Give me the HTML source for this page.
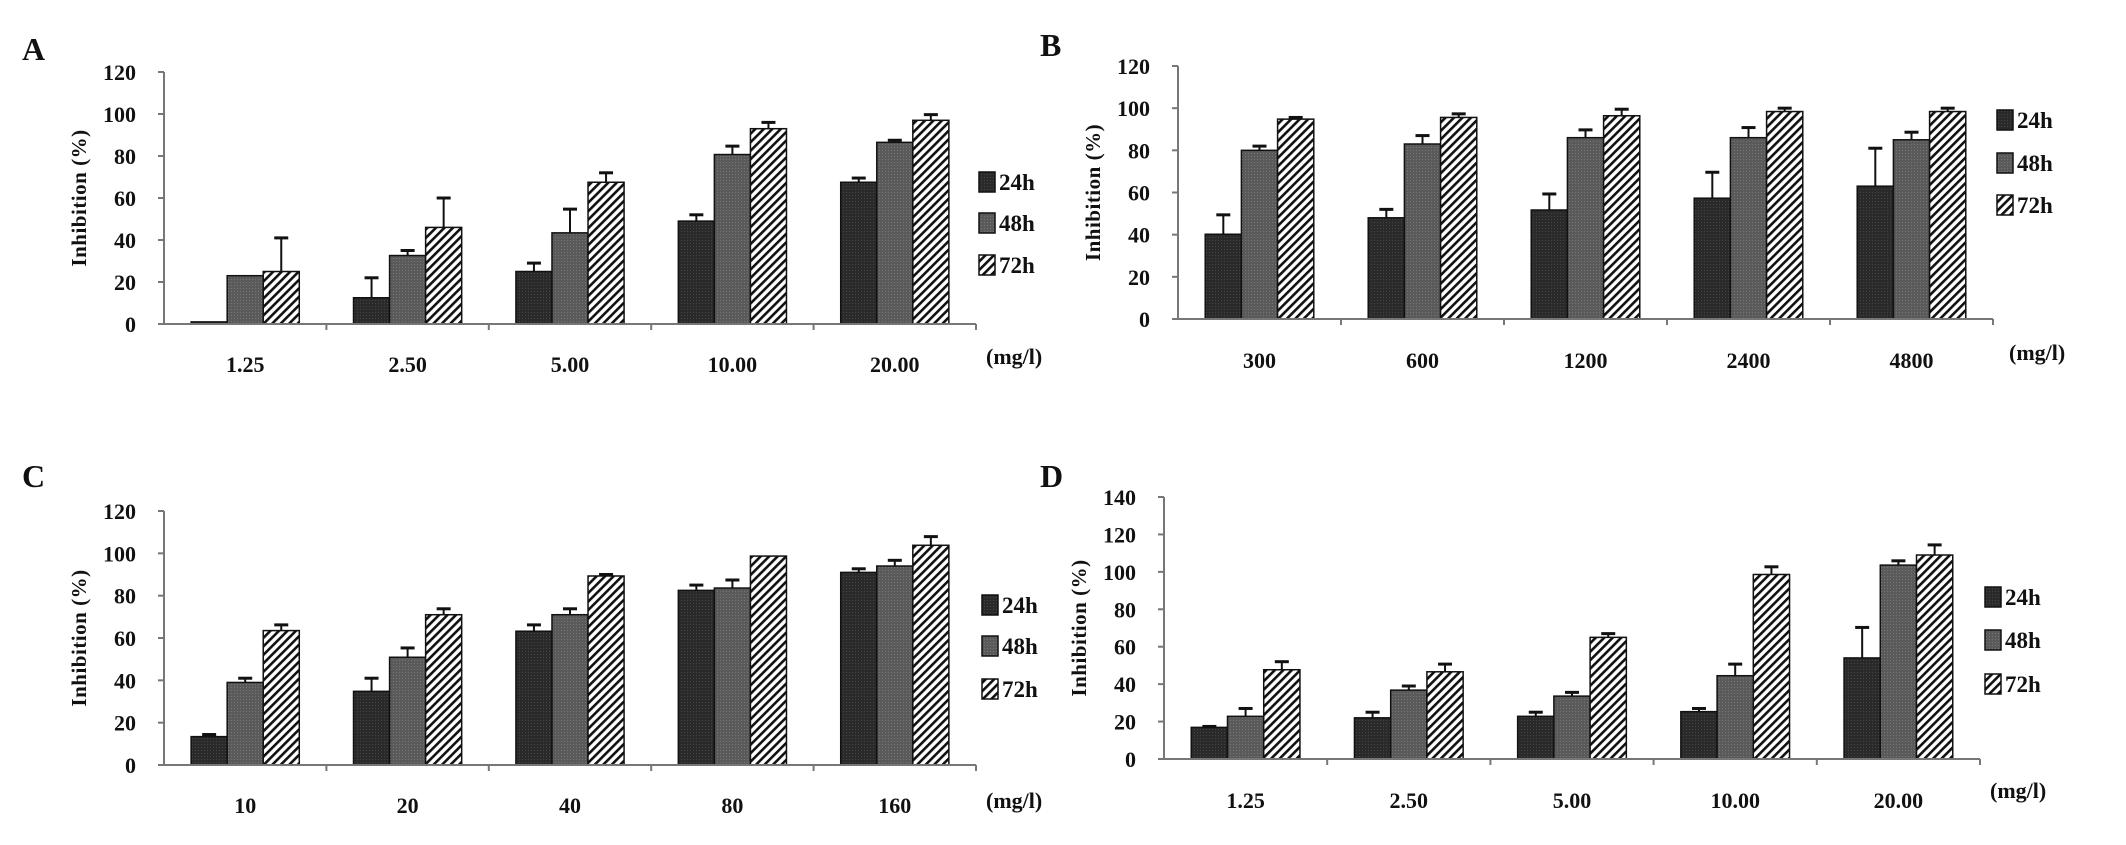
<!DOCTYPE html>
<html><head><meta charset="utf-8"><style>
body{margin:0;background:#fff;width:2126px;height:845px;overflow:hidden}
svg{display:block}
text{font-family:"Liberation Serif",serif;font-weight:bold;fill:#111}
</style></head><body>
<svg id="fig" width="2126" height="845" viewBox="0 0 2126 845">
<defs>
<pattern id="pDark" width="3" height="3" patternUnits="userSpaceOnUse"><rect width="3" height="3" fill="#2a2a2a"/><rect width="1" height="1" fill="#444"/></pattern>
<pattern id="pMid" width="3" height="3" patternUnits="userSpaceOnUse"><rect width="3" height="3" fill="#5a5a5a"/><rect width="1" height="1" fill="#777"/></pattern>
<pattern id="pHatch" width="6" height="6" patternUnits="userSpaceOnUse" patternTransform="rotate(45)"><rect width="6" height="6" fill="#fff"/><rect width="2.6" height="6" fill="#111"/></pattern>
</defs>
</svg>
<script>
const seriesNames = ["24h","48h","72h"];
const fills = ["url(#pDark)","url(#pMid)","url(#pHatch)"];

const catsA = ["1.25","2.50","5.00","10.00","20.00"];
const a24 = [1,12.5,25,49,67.5];
const a48 = [23,32.6,43.4,80.7,86.5];
const a72 = [25,46,67.5,93,97];
const a24e = [0,9.5,4,3,2];
const a48e = [0,2.4,11.3,4,1];
const a72e = [16,14,4.5,3,2.7];
const ticksA = [0,20,40,60,80,100,120];

const catsB = ["300","600","1200","2400","4800"];
const b24 = [40.2,48,51.7,57.3,63];
const b48 = [80,83,86,86,85];
const b72 = [94.8,95.6,96.4,98.4,98.4];
const b24e = [9.2,4,7.6,12.3,18];
const b48e = [2,4,3.7,4.8,3.6];
const b72e = [0.8,1.7,3.1,1.6,1.6];
const ticksB = [0,20,40,60,80,100,120];

const catsC = ["10","20","40","80","160"];
const c24 = [13.4,34.8,63.2,82.5,91];
const c48 = [39,50.9,71,83.6,94];
const c72 = [63.5,71,89.3,98.7,103.8];
const c24e = [1,6.2,3,2.5,1.7];
const c48e = [2,4.4,2.8,3.8,2.7];
const c72e = [2.7,2.8,0.7,0,4.1];
const ticksC = [0,20,40,60,80,100,120];

const catsD = ["1.25","2.50","5.00","10.00","20.00"];
const d24 = [16.9,22,22.8,25.3,54];
const d48 = [22.8,36.8,33.6,44.5,103.6];
const d72 = [47.7,46.6,65,98.6,109];
const d24e = [0.5,3,2.2,1.7,16.3];
const d48e = [4.2,2.2,2,6.2,2.3];
const d72e = [4.3,4.1,2,4.1,5.4];
const ticksD = [0,20,40,60,80,100,120,140];

const NS = "http://www.w3.org/2000/svg";
const svg = document.getElementById("fig");
function mk(tag, attrs, parent, txt){
  const e = document.createElementNS(NS, tag);
  for (const k in attrs) e.setAttribute(k, attrs[k]);
  if (txt !== undefined) e.textContent = txt;
  (parent || svg).appendChild(e);
  return e;
}

function panel(cfg){
  const g = mk("g", {});
  
  
  const yMax = cfg.ticks[cfg.ticks.length-1];
  const yS = v => cfg.y0 - (v / yMax) * (cfg.y0 - cfg.yTop);
  const band = (cfg.xEnd - cfg.x0) / cfg.cats.length;
  const bw = band * 0.222;
  const xS = (i, s) => cfg.x0 + i*band + (band - 3*bw)/2 + s*bw;

  const lbl = mk("text", {x: cfg.lx, y: cfg.ly, "font-size": 32}, g, cfg.letter);
  
  

  const ya = mk("line", {x1: cfg.x0, y1: cfg.yTop, x2: cfg.x0, y2: cfg.y0, stroke: "#777", "stroke-width": 2}, g);
  
  
  cfg.ticks.forEach(t => {
    const y = yS(t);
    mk("line", {x1: cfg.x0-6, y1: y, x2: cfg.x0, y2: y, stroke: "#777", "stroke-width": 2}, g);
    const tl = mk("text", {x: cfg.x0-28, y: y+8, "font-size": 22, "text-anchor": "end"}, g, String(t));
    
    
  });
  const yt = mk("text", {x: 0, y: 0, "font-size": 21, "text-anchor": "middle", "letter-spacing": "0.5", transform: `translate(${cfg.tx},${(cfg.yTop+cfg.y0)/2}) rotate(-90)`}, g, "Inhibition (%)");
  
  

  cfg.vals.forEach((arr, s) => {
    arr.forEach((v, i) => {
      const x = xS(i, s), y = yS(v);
      const e = cfg.errs[s][i];
      if (e > 0) {
        const ey = yS(v + e), cx = x + bw/2;
        mk("line", {x1: cx, y1: y, x2: cx, y2: ey, stroke: "#111", "stroke-width": 2}, g);
        const cap = mk("line", {x1: cx-7, y1: ey, x2: cx+7, y2: ey, stroke: "#111", "stroke-width": 3}, g);
        
        
      }
      const r = mk("rect", {x: x, y: y, width: bw, height: Math.max(cfg.y0 - y, 1), fill: fills[s], stroke: "#111", "stroke-width": 1.5}, g);
      
      
    });
  });

  const xa = mk("line", {x1: cfg.x0, y1: cfg.y0, x2: cfg.xEnd, y2: cfg.y0, stroke: "#777", "stroke-width": 2}, g);
  
  
  cfg.cats.forEach((c, i) => {
    const bx = cfg.x0 + (i+1)*band;
    mk("line", {x1: bx, y1: cfg.y0, x2: bx, y2: cfg.y0+6, stroke: "#777", "stroke-width": 2}, g);
    const cl = mk("text", {x: cfg.x0 + (i+0.5)*band, y: cfg.xly, "font-size": 22, "text-anchor": "middle"}, g, c);
    
    
  });
  const un = mk("text", {x: cfg.ux, y: cfg.uy, "font-size": 22}, g, "(mg/l)");
  
  

  seriesNames.forEach((n, s) => {
    const ly = cfg.legY[s];
    const le = mk("g", {}, g);
    
    
    mk("rect", {x: cfg.legX, y: ly-10, width: 16, height: 20, fill: fills[s], stroke: "#111", "stroke-width": 1.5}, le);
    mk("text", {x: cfg.legX+20, y: ly+8, "font-size": 23}, le, n);
  });
}

panel({letter:"A", lx:22, ly:60, x0:164, xEnd:976, yTop:72, y0:324, ticks:ticksA, cats:catsA,
  vals:[a24,a48,a72], errs:[a24e,a48e,a72e], tx:86, xly:372, ux:986, uy:364, legX:979, legY:[182,223,265]});
panel({letter:"B", lx:1040, ly:56, x0:1178, xEnd:1993, yTop:66, y0:319, ticks:ticksB, cats:catsB,
  vals:[b24,b48,b72], errs:[b24e,b48e,b72e], tx:1100, xly:368, ux:2009, uy:360, legX:1997, legY:[120,163,205]});
panel({letter:"C", lx:22, ly:487, x0:164, xEnd:976, yTop:511, y0:765, ticks:ticksC, cats:catsC,
  vals:[c24,c48,c72], errs:[c24e,c48e,c72e], tx:86, xly:813, ux:986, uy:808, legX:982, legY:[605,646,689]});
panel({letter:"D", lx:1040, ly:487, x0:1164, xEnd:1980, yTop:497, y0:759, ticks:ticksD, cats:catsD,
  vals:[d24,d48,d72], errs:[d24e,d48e,d72e], tx:1086, xly:808, ux:1990, uy:798, legX:1985, legY:[597,640,684]});
</script>
</body></html>
